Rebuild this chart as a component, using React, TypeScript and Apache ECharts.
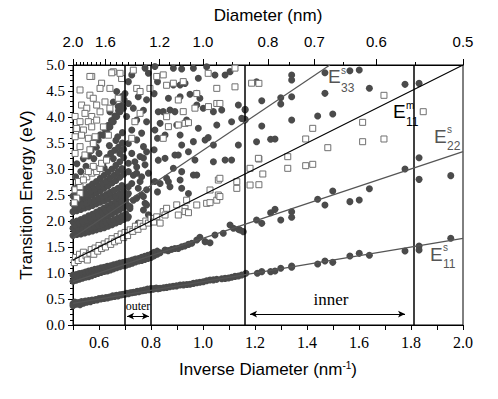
import React, { useEffect, useRef } from "react";
import * as echarts from "echarts";

// ---------- data (inverse diameter nm^-1, transition energy eV) ----------
const e11sBand: number[][] = [
  [0.5, 0.41], [0.5, 0.37], [0.507, 0.44], [0.513, 0.4], [0.52, 0.43], [0.527, 0.39], [0.533, 0.45], [0.54, 0.42],
  [0.547, 0.46], [0.553, 0.44], [0.56, 0.47], [0.567, 0.45], [0.573, 0.48], [0.58, 0.47], [0.587, 0.49], [0.593, 0.48],
  [0.6, 0.51], [0.607, 0.5], [0.613, 0.52], [0.62, 0.51], [0.627, 0.53], [0.633, 0.52], [0.64, 0.54], [0.647, 0.54],
  [0.653, 0.56], [0.66, 0.55], [0.667, 0.57], [0.673, 0.56], [0.68, 0.58], [0.687, 0.58], [0.693, 0.59], [0.7, 0.59],
  [0.707, 0.61], [0.713, 0.6], [0.72, 0.62], [0.727, 0.62], [0.733, 0.63], [0.74, 0.63], [0.747, 0.65], [0.753, 0.64],
  [0.76, 0.66], [0.767, 0.66], [0.773, 0.67], [0.78, 0.67], [0.787, 0.69], [0.793, 0.68], [0.8, 0.7], [0.807, 0.69],
  [0.813, 0.7], [0.82, 0.71], [0.827, 0.7],
];
const e11sChain: number[][] = [
  [0.835, 0.705], [0.848, 0.715], [0.86, 0.724], [0.872, 0.735], [0.885, 0.745], [0.898, 0.752], [0.912, 0.769],
  [0.925, 0.772], [0.938, 0.78], [0.95, 0.782], [0.963, 0.8], [0.976, 0.814], [0.988, 0.822], [1.001, 0.833],
  [1.014, 0.85], [1.027, 0.865], [1.04, 0.868], [1.053, 0.878], [1.072, 0.89], [1.085, 0.897], [1.098, 0.905],
  [1.11, 0.917], [1.123, 0.935], [1.136, 0.942], [1.149, 0.96], [1.165, 0.994], [1.209, 0.994], [1.226, 1.026],
  [1.26, 1.026], [1.277, 1.038], [1.299, 1.09], [1.341, 1.135], [1.341, 1.11], [1.441, 1.173], [1.469, 1.23],
  [1.499, 1.205], [1.565, 1.327], [1.601, 1.378], [1.64, 1.34], [1.777, 1.423], [1.831, 1.519], [1.831, 1.442],
  [1.953, 1.667],
];
const e22sBand: number[][] = [
  [0.5, 0.84], [0.5, 0.96], [0.512, 0.86], [0.512, 0.97], [0.524, 0.88], [0.524, 0.99], [0.536, 0.9], [0.536, 1.0],
  [0.548, 0.92], [0.548, 1.02], [0.56, 0.93], [0.56, 1.04], [0.572, 0.95], [0.572, 1.05], [0.584, 0.97], [0.584, 1.07],
  [0.596, 0.99], [0.596, 1.08], [0.608, 1.01], [0.608, 1.1], [0.62, 1.03], [0.62, 1.11], [0.632, 1.04], [0.632, 1.13],
  [0.644, 1.06], [0.644, 1.14], [0.656, 1.08], [0.656, 1.16], [0.668, 1.1], [0.668, 1.17], [0.68, 1.12], [0.68, 1.19],
  [0.692, 1.14], [0.692, 1.2], [0.704, 1.15], [0.704, 1.22], [0.716, 1.17], [0.716, 1.23], [0.728, 1.19], [0.728, 1.25],
  [0.74, 1.21], [0.74, 1.27], [0.752, 1.23], [0.752, 1.28], [0.764, 1.24], [0.764, 1.3], [0.776, 1.26], [0.776, 1.32],
  [0.788, 1.28], [0.788, 1.34], [0.8, 1.3], [0.8, 1.36], [0.812, 1.33], [0.812, 1.4], [0.824, 1.36], [0.824, 1.42],
];
const e22sChain: number[][] = [
  [0.835, 1.391], [0.854, 1.442], [0.866, 1.43], [0.88, 1.455], [0.892, 1.47], [0.905, 1.474], [0.918, 1.506],
  [0.93, 1.52], [0.944, 1.55], [0.957, 1.571], [0.976, 1.635], [0.988, 1.686], [1.008, 1.603], [1.027, 1.583],
  [1.046, 1.731], [1.078, 1.763], [1.104, 1.923], [1.117, 1.859], [1.136, 1.84], [1.142, 1.827], [1.155, 1.795],
  [1.206, 2.019], [1.226, 1.955], [1.26, 2.16], [1.277, 2.224], [1.299, 2.019], [1.341, 2.179], [1.341, 2.071],
  [1.441, 2.417], [1.469, 2.308], [1.499, 2.577], [1.565, 2.372], [1.601, 2.404], [1.64, 2.62], [1.777, 3.0],
  [1.831, 3.218], [1.831, 2.801], [1.953, 2.872],
];
const e33sBand: number[][] = [
  [0.5, 1.72], [0.5, 1.86], [0.5, 1.98], [0.515, 1.74], [0.515, 1.88], [0.515, 2.0], [0.53, 1.75], [0.53, 1.9], [0.53, 2.03],
  [0.545, 1.77], [0.545, 1.93], [0.545, 2.06], [0.56, 1.79], [0.56, 1.95], [0.56, 2.1], [0.575, 1.81], [0.575, 1.98], [0.575, 2.13],
  [0.59, 1.83], [0.59, 2.01], [0.59, 2.17], [0.605, 1.85], [0.605, 2.04], [0.605, 2.21], [0.62, 1.87], [0.62, 2.07], [0.62, 2.25],
  [0.635, 1.9], [0.635, 2.1], [0.635, 2.29], [0.65, 1.93], [0.65, 2.14], [0.65, 2.33], [0.665, 1.96], [0.665, 2.18], [0.665, 2.37],
  [0.68, 1.99], [0.68, 2.22], [0.68, 2.42], [0.695, 2.03], [0.695, 2.26], [0.695, 2.47], [0.71, 2.06], [0.71, 2.3], [0.71, 2.51],
  [0.508, 1.79], [0.508, 1.93], [0.523, 1.81], [0.523, 1.96], [0.538, 1.83], [0.538, 1.99], [0.553, 1.85], [0.553, 2.02],
  [0.568, 1.87], [0.568, 2.05], [0.583, 1.89], [0.583, 2.08], [0.598, 1.92], [0.598, 2.12], [0.613, 1.94], [0.613, 2.15],
  [0.628, 1.97], [0.628, 2.19], [0.643, 2.0], [0.643, 2.23], [0.658, 2.03], [0.658, 2.27], [0.673, 2.06], [0.673, 2.31],
  [0.688, 2.1], [0.688, 2.36], [0.703, 2.14], [0.703, 2.4],
];
const e44sBand: number[][] = [
  [0.5, 2.18], [0.5, 2.33], [0.5, 2.48], [0.515, 2.2], [0.515, 2.36], [0.515, 2.52], [0.53, 2.22], [0.53, 2.39], [0.53, 2.56],
  [0.545, 2.25], [0.545, 2.43], [0.545, 2.61], [0.56, 2.27], [0.56, 2.46], [0.56, 2.66], [0.575, 2.3], [0.575, 2.5], [0.575, 2.71],
  [0.59, 2.33], [0.59, 2.54], [0.59, 2.76], [0.605, 2.36], [0.605, 2.58], [0.605, 2.82], [0.62, 2.39], [0.62, 2.63], [0.62, 2.88],
  [0.635, 2.42], [0.635, 2.68], [0.635, 2.94], [0.65, 2.46], [0.65, 2.73], [0.65, 3.0], [0.665, 2.49], [0.665, 2.78], [0.665, 3.07],
  [0.68, 2.53], [0.68, 2.84], [0.68, 3.14], [0.695, 2.57], [0.695, 2.9], [0.695, 3.22],
  [0.508, 2.26], [0.508, 2.4], [0.523, 2.28], [0.523, 2.44], [0.538, 2.31], [0.538, 2.48], [0.553, 2.34], [0.553, 2.52],
  [0.568, 2.37], [0.568, 2.57], [0.583, 2.4], [0.583, 2.62], [0.598, 2.44], [0.598, 2.67], [0.613, 2.47], [0.613, 2.72],
  [0.628, 2.51], [0.628, 2.77], [0.643, 2.55], [0.643, 2.83], [0.658, 2.59], [0.658, 2.88], [0.673, 2.63], [0.673, 2.95],
  [0.688, 2.68], [0.688, 3.01],
  [0.615, 3.1], [0.63, 3.22], [0.645, 3.3], [0.66, 3.36], [0.675, 3.42], [0.69, 3.5], [0.64, 3.45], [0.665, 3.55],
  [0.69, 3.7], [0.6, 3.0], [0.585, 2.95], [0.655, 3.2], [0.68, 3.3], [0.695, 3.38], [0.62, 3.02], [0.672, 3.62],
  [0.505, 2.62], [0.52, 2.7], [0.51, 2.85], [0.53, 2.95], [0.55, 3.05], [0.515, 3.1], [0.54, 3.2], [0.56, 3.25],
  [0.58, 3.2], [0.6, 3.3], [0.57, 3.35], [0.59, 3.42],
];
const diagonalBand: number[][] = [
  [0.578, 3.49], [0.59, 3.58], [0.597, 3.56], [0.605, 3.66], [0.617, 3.65], [0.623, 3.76], [0.629, 3.72], [0.636, 3.84],
  [0.642, 3.81], [0.648, 3.93], [0.655, 3.91], [0.661, 4.02], [0.668, 4.01], [0.675, 4.12], [0.681, 4.1], [0.687, 4.22],
  [0.694, 4.17], [0.697, 4.33], [0.7, 4.45], [0.69, 4.4], [0.668, 4.49], [0.655, 4.29], [0.674, 4.2], [0.642, 4.1],
];
const outerZoneCircles: number[][] = [
  [0.713, 4.68], [0.726, 4.81], [0.777, 4.94], [0.79, 4.84], [0.751, 4.39], [0.783, 4.33], [0.713, 4.26], [0.732, 4.17],
  [0.771, 4.13], [0.706, 4.01], [0.745, 3.94], [0.783, 3.91], [0.726, 3.75], [0.764, 3.69], [0.713, 3.49], [0.745, 3.56],
  [0.771, 3.43], [0.726, 3.3], [0.758, 3.24], [0.783, 3.33], [0.713, 3.11], [0.745, 3.04], [0.777, 3.08], [0.732, 2.88],
  [0.764, 2.85], [0.79, 2.92], [0.713, 2.66], [0.751, 2.63], [0.783, 2.6], [0.771, 2.47], [0.738, 3.14], [0.771, 3.21],
  [0.713, 2.95], [0.745, 2.92], [0.726, 2.72], [0.758, 2.76], [0.706, 2.5], [0.745, 2.44], [0.777, 2.34], [0.719, 2.28],
  [0.771, 2.21], [0.713, 2.08], [0.751, 1.96], [0.783, 1.99], [0.713, 2.53], [0.732, 2.4], [0.764, 2.5], [0.783, 2.31],
  [0.719, 2.24], [0.79, 2.12],
  [0.815, 4.97], [0.825, 4.68], [0.812, 4.45], [0.828, 4.1], [0.815, 3.75], [0.825, 3.59], [0.812, 3.37], [0.828, 3.17],
  [0.815, 2.76], [0.825, 2.56],
];
const middleCircles: number[][] = [
  [0.886, 4.936], [0.918, 4.923], [0.963, 4.936], [1.014, 4.968], [1.046, 4.808], [1.085, 4.808], [1.104, 4.872],
  [0.982, 4.744], [0.912, 4.615], [0.886, 4.615], [0.931, 4.647], [0.976, 4.455], [0.867, 4.359], [0.912, 4.391],
  [0.95, 4.436], [0.988, 4.359], [1.072, 4.135], [1.136, 4.231], [1.162, 4.135], [1.149, 3.974], [1.162, 3.942],
  [0.847, 4.103], [0.873, 4.135], [0.892, 4.103], [0.976, 4.231], [1.001, 4.167], [1.04, 4.103], [0.937, 3.942],
  [0.899, 3.846], [0.835, 3.878], [0.982, 3.782], [1.053, 3.846], [1.11, 3.91], [0.854, 3.654], [0.912, 3.654],
  [1.02, 3.603], [1.008, 3.558], [0.963, 3.526], [0.918, 3.462], [1.04, 3.462], [1.136, 3.462], [0.892, 3.269],
  [0.905, 3.269], [0.854, 3.205], [0.944, 3.333], [0.969, 3.173], [1.04, 3.141], [1.085, 3.173], [1.11, 3.173],
  [0.886, 3.013], [0.918, 2.949], [0.963, 2.885], [0.976, 2.885], [0.86, 2.821], [0.867, 2.756], [0.912, 2.788],
  [0.835, 2.72], [0.873, 2.66], [0.918, 2.63], [0.944, 2.53],
];
const innerCircles: number[][] = [
  [1.206, 4.679], [1.341, 4.808], [1.341, 4.712], [1.469, 4.852], [1.565, 4.89], [1.601, 4.904], [1.64, 4.552],
  [1.777, 4.628], [1.831, 4.647], [1.226, 4.313], [1.299, 4.371], [1.341, 4.391], [1.469, 4.455], [1.299, 4.25],
  [1.162, 4.148], [1.162, 3.955], [1.226, 3.827], [1.341, 3.942], [1.441, 4.019], [1.499, 4.058], [1.206, 3.525],
  [1.26, 3.571], [1.277, 3.577],
];
const squaresE11m: number[][] = [
  [0.505, 1.2], [0.51, 1.3], [0.52, 1.24], [0.525, 1.36], [0.535, 1.28], [0.54, 1.4], [0.55, 1.33], [0.555, 1.25],
  [0.565, 1.38], [0.57, 1.45], [0.58, 1.36], [0.585, 1.48], [0.595, 1.42], [0.6, 1.53], [0.61, 1.47], [0.62, 1.56],
  [0.625, 1.5], [0.635, 1.6], [0.645, 1.55], [0.65, 1.66], [0.66, 1.6], [0.67, 1.7], [0.675, 1.63], [0.685, 1.75],
  [0.695, 1.68], [0.7, 1.78], [0.71, 1.72], [0.72, 1.83], [0.73, 1.8], [0.74, 1.9], [0.75, 1.84], [0.76, 1.95],
  [0.77, 1.9], [0.78, 2.0], [0.79, 1.96], [0.8, 2.05], [0.81, 1.98], [0.822, 2.08], [0.835, 1.96], [0.847, 2.18],
  [0.854, 2.115], [0.86, 2.244], [0.899, 2.31], [0.905, 2.115], [0.931, 2.244], [0.931, 2.18], [0.937, 2.4],
  [0.944, 2.16], [0.976, 2.308], [1.014, 2.34], [1.027, 2.353], [1.053, 2.4], [1.059, 2.5], [1.065, 2.47],
  [1.027, 2.596], [1.059, 2.788], [1.065, 2.821], [1.13, 2.756], [1.13, 2.628], [1.181, 2.692], [1.215, 2.698],
];
const squaresUpperLeft: number[][] = [
  [0.508, 2.6], [0.527, 2.66], [0.521, 2.76], [0.553, 2.85], [0.572, 2.92], [0.591, 2.95], [0.604, 3.01], [0.61, 3.11],
  [0.629, 3.17], [0.578, 3.05], [0.559, 2.95], [0.54, 2.79], [0.527, 2.53], [0.514, 2.44], [0.505, 2.35],
  [0.655, 4.87], [0.687, 4.74], [0.572, 4.78], [0.61, 4.65], [0.527, 4.52], [0.565, 4.42], [0.604, 4.55], [0.642, 4.55],
  [0.578, 4.36], [0.623, 4.29], [0.674, 4.36], [0.533, 4.23], [0.553, 4.17], [0.591, 4.23], [0.642, 4.17], [0.508, 4.01],
  [0.546, 4.07], [0.572, 4.01], [0.604, 4.1], [0.527, 3.91], [0.559, 3.91], [0.591, 3.94], [0.514, 3.78], [0.54, 3.75],
  [0.572, 3.81], [0.617, 3.81], [0.508, 3.62], [0.533, 3.65], [0.559, 3.59], [0.585, 3.62], [0.636, 3.65],
  [0.565, 4.78], [0.649, 4.85], [0.681, 4.84], [0.508, 3.3], [0.527, 3.43], [0.546, 3.27], [0.565, 3.37], [0.578, 3.49],
  [0.732, 4.9], [0.745, 4.55], [0.758, 4.49], [0.796, 4.55], [0.758, 4.07], [0.738, 3.91], [0.726, 3.59],
];
const squaresRight: number[][] = [
  [0.822, 4.78], [0.847, 4.81], [0.86, 4.61], [0.886, 4.65], [0.924, 4.68], [0.976, 4.45], [0.969, 4.17], [1.021, 4.2],
  [1.053, 4.26], [1.065, 4.26], [1.123, 4.94], [1.123, 4.58], [1.187, 4.65], [1.215, 4.647], [1.02, 4.84], [1.053, 4.551],
  [0.905, 4.327], [0.86, 4.006], [0.924, 4.103], [0.867, 3.814], [0.905, 3.846], [0.931, 3.878], [0.944, 3.891],
  [0.847, 3.59], [1.696, 4.417], [1.847, 4.102], [1.614, 3.897], [1.422, 3.782], [1.395, 3.577], [1.48, 3.41],
  [1.614, 3.525], [1.696, 3.577], [1.215, 3.192], [1.326, 3.237], [1.181, 3.013], [1.213, 3.205], [1.23, 2.904],
  [1.326, 3.013], [1.395, 3.064], [1.422, 3.09],
];

// fitted lines (end points)
const e11sLine: number[][] = [[0.5, 0.417], [2.0, 1.667]];
const e22sLine: number[][] = [[0.5, 0.833], [2.0, 3.333]];
const e11mLine: number[][] = [[0.5, 1.25], [2.0, 5.0]];
const e33sLine: number[][] = [[0.5, 1.68], [1.488, 5.0]];

// region markers
const regionBounds: number[] = [0.7, 0.8, 1.16, 1.815];
const outerArrow: number[][] = [[0.708, 0.17], [0.792, 0.17]];
const innerArrow: number[][] = [[1.181, 0.21], [1.777, 0.21]];

// top (diameter) axis
const topDiameters: number[] = [2.0, 1.6, 1.2, 1.0, 0.8, 0.7, 0.6, 0.5];
const topTickLabels: string[] = ["2.0", "1.6", "1.2", "1.0", "0.8", "0.7", "0.6", "0.5"];
const topMinorDiameters: number[] = [
  1.95, 1.9, 1.85, 1.8, 1.75, 1.7, 1.65, 1.55, 1.5, 1.45, 1.4, 1.35, 1.3, 1.25, 1.15, 1.1, 1.05, 0.95, 0.9, 0.85,
  0.75, 0.65, 0.55,
];

const CIRCLE = "#4b4b4b";
const SQUARE = "#707070";
const SANS = "Liberation Sans, Arial, sans-serif";
const SERIF = "Liberation Serif, Times New Roman, serif";

export default function App() {
  const ref = useRef<HTMLDivElement>(null);
  useEffect(() => {
    if (!ref.current) return;
    const chart = echarts.init(ref.current, null, { renderer: "svg" });
    const circles = [
      ...e11sBand, ...e11sChain, ...e22sBand, ...e22sChain, ...e33sBand, ...e44sBand,
      ...diagonalBand, ...outerZoneCircles, ...middleCircles, ...innerCircles,
    ];
    const squares = [...squaresE11m, ...squaresUpperLeft, ...squaresRight];
    const labelText = (x: number, y: number, text: string, size: number, fill: string) => ({
      type: "text",
      x,
      y,
      silent: true,
      z: 100,
      style: { text, font: `${size}px ${SANS}`, fill, textAlign: "left", textVerticalAlign: "middle", align: "left", verticalAlign: "middle" },
    });
    const lineSeries = (data: number[][], color: string) => ({
      type: "line",
      data,
      xAxisIndex: 0,
      yAxisIndex: 0,
      showSymbol: false,
      symbol: "none",
      silent: true,
      z: 5,
      lineStyle: { color, width: 1.2 },
    });
    const option: any = {
      animation: false,
      backgroundColor: "#ffffff",
      grid: { left: 73, right: 35, top: 65, bottom: 74, show: true, borderColor: "#000", borderWidth: 1, backgroundColor: "transparent" },
      xAxis: [
        {
          type: "value",
          min: 0.5,
          max: 2.0,
          interval: 0.1,
          position: "bottom",
          name: "Inverse Diameter (nm{sup|-1})",
          nameLocation: "middle",
          nameGap: 35,
          nameTextStyle: {
            fontFamily: SANS,
            fontSize: 17,
            color: "#000",
            rich: { sup: { fontFamily: SANS, fontSize: 10, color: "#000", verticalAlign: "top", padding: [0, 0, 9, 0] } },
          },
          axisLine: { lineStyle: { color: "#000", width: 1 } },
          axisTick: { length: 5, lineStyle: { color: "#000" } },
          axisLabel: {
            fontFamily: SERIF,
            fontSize: 16,
            color: "#000",
            margin: 9,
            formatter: (v: number) => (Math.round(v * 10) % 2 === 0 ? v.toFixed(1) : ""),
          },
          splitLine: { show: false },
        },
        {
          type: "value",
          min: 0.5,
          max: 2.0,
          position: "top",
          name: "Diameter (nm)",
          nameLocation: "middle",
          nameGap: 41,
          nameTextStyle: { fontFamily: SANS, fontSize: 17, color: "#000" },
          axisLine: { lineStyle: { color: "#000", width: 1 } },
          axisTick: { length: 6, lineStyle: { color: "#000" }, customValues: topDiameters.map((d) => 1 / d) },
          axisLabel: {
            fontFamily: SANS,
            fontSize: 15,
            color: "#000",
            margin: 16,
            customValues: topDiameters.map((d) => 1 / d),
            formatter: (v: number) => {
              const i = topDiameters.findIndex((d) => Math.abs(1 / d - v) < 1e-6);
              return i >= 0 ? topTickLabels[i] : "";
            },
          },
          splitLine: { show: false },
        },
        {
          type: "value",
          min: 0.5,
          max: 2.0,
          position: "top",
          axisLine: { show: false },
          axisTick: { length: 3, lineStyle: { color: "#000" }, customValues: topMinorDiameters.map((d) => 1 / d) },
          axisLabel: { show: false },
          splitLine: { show: false },
        },
      ],
      yAxis: {
        type: "value",
        min: 0,
        max: 5,
        interval: 0.5,
        name: "Transition Energy (eV)",
        nameLocation: "middle",
        nameGap: 34,
        nameTextStyle: { fontFamily: SANS, fontSize: 17, color: "#000" },
        axisLine: { show: true, lineStyle: { color: "#000", width: 1 } },
        axisTick: { show: true, length: 5, lineStyle: { color: "#000" } },
        minorTick: { show: true, splitNumber: 5, length: 3, lineStyle: { color: "#000" } },
        axisLabel: { fontFamily: SERIF, fontSize: 15, color: "#000", margin: 8, formatter: (v: number) => v.toFixed(1) },
        splitLine: { show: false },
      },
      series: [
        {
          type: "scatter",
          data: circles,
          symbol: "circle",
          symbolSize: 7,
          z: 2,
          silent: true,
          itemStyle: { color: CIRCLE, opacity: 1 },
        },
        {
          type: "scatter",
          data: squares,
          symbol: "rect",
          symbolSize: 6,
          z: 3,
          silent: true,
          itemStyle: { color: "#ffffff", borderColor: SQUARE, borderWidth: 1, opacity: 1 },
        },
        lineSeries(e11sLine, "#555"),
        lineSeries(e22sLine, "#555"),
        lineSeries(e33sLine, "#555"),
        lineSeries(e11mLine, "#000"),
        {
          type: "scatter",
          data: [],
          silent: true,
          z: 6,
          markLine: {
            silent: true,
            symbol: ["none", "none"],
            label: { show: false },
            lineStyle: { color: "#000", width: 1.5, type: "solid" },
            data: regionBounds.map((x) => ({ xAxis: x })),
          },
        },
        {
          type: "scatter",
          data: [],
          silent: true,
          z: 6,
          markLine: {
            silent: true,
            symbol: ["arrow", "arrow"],
            symbolSize: [5, 7],
            label: { show: false },
            lineStyle: { color: "#000", width: 1, type: "solid" },
            data: [
              [{ coord: outerArrow[0] }, { coord: outerArrow[1] }],
              [{ coord: innerArrow[0] }, { coord: innerArrow[1] }],
            ],
          },
        },
      ],
      graphic: [
        labelText(328, 76, "E", 19, "#555"),
        labelText(341, 70, "s", 10, "#555"),
        labelText(341, 88, "33", 12, "#555"),
        labelText(393, 111, "E", 19, "#000"),
        labelText(406, 105, "m", 10, "#000"),
        labelText(406, 122, "11", 12, "#000"),
        labelText(434, 136, "E", 19, "#555"),
        labelText(447, 129, "s", 10, "#555"),
        labelText(447, 146, "22", 12, "#555"),
        labelText(430, 254, "E", 19, "#555"),
        labelText(443, 247, "s", 10, "#555"),
        labelText(443, 264, "11", 12, "#555"),
        {
          type: "text",
          x: 138,
          y: 306,
          silent: true,
          z: 100,
          style: { text: "outer", font: `12px ${SERIF}`, fill: "#000", textAlign: "center", textVerticalAlign: "middle", align: "center", verticalAlign: "middle" },
        },
        {
          type: "text",
          x: 331,
          y: 299,
          silent: true,
          z: 100,
          style: { text: "inner", font: `17px ${SERIF}`, fill: "#000", textAlign: "center", textVerticalAlign: "middle", align: "center", verticalAlign: "middle" },
        },
      ],
    };
    chart.setOption(option);
    return () => chart.dispose();
  }, []);
  return <div ref={ref} style={{ position: "fixed", left: 0, top: 0, width: 498, height: 399 }} />;
}
